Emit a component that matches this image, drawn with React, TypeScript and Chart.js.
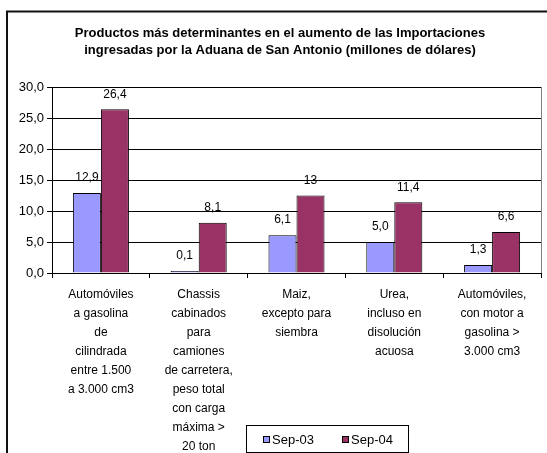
import React, { useEffect, useRef } from "react";
import { Chart, registerables } from "chart.js";

Chart.register(...registerables);

const titleLines = [
  "Productos más determinantes en el aumento de las Importaciones",
  "ingresadas por la Aduana de San Antonio (millones de dólares)",
];

const categories: string[][] = [
  ["Automóviles", "a gasolina", "de", "cilindrada", "entre 1.500", "a 3.000 cm3"],
  ["Chassis", "cabinados", "para", "camiones", "de carretera,", "peso total", "con carga", "máxima >", "20 ton"],
  ["Maiz,", "excepto para", "siembra"],
  ["Urea,", "incluso en", "disolución", "acuosa"],
  ["Automóviles,", "con motor a", "gasolina >", "3.000 cm3"],
];

const seriesNames = ["Sep-03", "Sep-04"];
const sep03Values = [12.9, 0.1, 6.1, 5.0, 1.3];
const sep04Values = [26.4, 8.1, 12.5, 11.4, 6.6];
const sep03Labels = ["12,9", "0,1", "6,1", "5,0", "1,3"];
const sep04Labels = ["26,4", "8,1", "13", "11,4", "6,6"];
const yTicks = [0, 5, 10, 15, 20, 25, 30];

const FONT = "'Liberation Sans', Arial, sans-serif";

const decorPlugin = {
  id: "decor",
  beforeDraw(chart: any) {
    const ctx = chart.ctx;
    ctx.save();
    ctx.fillStyle = "#ffffff";
    ctx.fillRect(0, 0, chart.width, chart.height);
    ctx.restore();
  },
  afterDraw(chart: any) {
    const ctx = chart.ctx;
    const area = chart.chartArea;
    ctx.save();
    // outer frame
    ctx.strokeStyle = "#111";
    ctx.lineWidth = 2;
    ctx.beginPath();
    ctx.moveTo(7, chart.height + 10);
    ctx.lineTo(7, 11.5);
    ctx.lineTo(chart.width + 10, 11.5);
    ctx.stroke();

    // plot right border
    ctx.strokeStyle = "#808080";
    ctx.lineWidth = 1;
    ctx.beginPath();
    ctx.moveTo(area.right + 0.5, area.top);
    ctx.lineTo(area.right + 0.5, area.bottom);
    ctx.stroke();

    // title
    ctx.fillStyle = "#000";
    ctx.font = `bold 13px ${FONT}`;
    ctx.textAlign = "center";
    ctx.textBaseline = "middle";
    ctx.fillText(titleLines[0], 280, 33);
    ctx.fillText(titleLines[1], 280, 50);

    // data labels
    ctx.font = `12px ${FONT}`;
    const labelSets = [sep03Labels, sep04Labels];
    chart.data.datasets.forEach((_ds: any, di: number) => {
      const meta = chart.getDatasetMeta(di);
      meta.data.forEach((bar: any, i: number) => {
        ctx.fillText(labelSets[di][i], bar.x, bar.y - 15);
      });
    });

    // legend
    const lx = 246, ly = 425, lw = 162, lh = 27;
    ctx.strokeStyle = "#000";
    ctx.lineWidth = 1;
    ctx.strokeRect(lx + 0.5, ly + 0.5, lw, lh);
    const items = [
      { x: 263, color: chart.data.datasets[0].backgroundColor, text: seriesNames[0] },
      { x: 342, color: chart.data.datasets[1].backgroundColor, text: seriesNames[1] },
    ];
    ctx.font = `13px ${FONT}`;
    ctx.textAlign = "left";
    items.forEach((it) => {
      ctx.fillStyle = it.color;
      ctx.fillRect(it.x, 436, 7, 7);
      ctx.strokeRect(it.x + 0.5, 436.5, 6, 6);
      ctx.fillStyle = "#000";
      ctx.fillText(it.text, it.x + 9, 440);
    });
    ctx.restore();
  },
};

export default function App() {
  const ref = useRef<HTMLCanvasElement>(null);
  useEffect(() => {
    if (!ref.current) return;
    const chart = new Chart(ref.current, {
      type: "bar",
      data: {
        labels: categories,
        datasets: [
          {
            label: seriesNames[0],
            data: sep03Values,
            backgroundColor: "#9999FF",
            borderColor: "#000000",
            borderWidth: 1,
            minBarLength: 2,
            categoryPercentage: 0.573,
            barPercentage: 1.0,
          },
          {
            label: seriesNames[1],
            data: sep04Values,
            backgroundColor: "#993366",
            borderColor: "#000000",
            borderWidth: 1,
            categoryPercentage: 0.573,
            barPercentage: 1.0,
          },
        ],
      },
      options: {
        responsive: false,
        animation: false,
        events: [],
        devicePixelRatio: 1,
        layout: { padding: { left: 0, top: 87, right: 6, bottom: 0 } },
        plugins: {
          legend: { display: false },
          title: { display: false },
          tooltip: { enabled: false },
        },
        scales: {
          x: {
            offset: true,
            grid: {
              offset: true,
              drawOnChartArea: false,
              drawTicks: true,
              tickLength: 5,
              color: "#000",
            },
            border: { color: "#000", width: 1 },
            ticks: {
              color: "#000",
              font: { family: FONT, size: 12, lineHeight: 19 / 12 },
              padding: 7,
              maxRotation: 0,
              autoSkip: false,
            },
            afterFit(scale: any) {
              scale.height = 180;
            },
          },
          y: {
            min: 0,
            max: 30,
            afterBuildTicks(scale: any) {
              scale.ticks = yTicks.map((v) => ({ value: v }));
            },
            grid: { color: "#000", lineWidth: 1, tickLength: 5 },
            border: { color: "#000", width: 1 },
            ticks: {
              color: "#000",
              font: { family: FONT, size: 13 },
              padding: 3,
              callback: (v: any) => Number(v).toFixed(1).replace(".", ","),
            },
            afterFit(scale: any) {
              scale.width = 52;
            },
          },
        },
      },
      plugins: [decorPlugin],
    } as any);
    return () => chart.destroy();
  }, []);
  return (
    <div style={{ position: "absolute", left: 0, top: 0, width: 547, height: 453 }}>
      <canvas ref={ref} width={547} height={453} style={{ display: "block" }} />
    </div>
  );
}
